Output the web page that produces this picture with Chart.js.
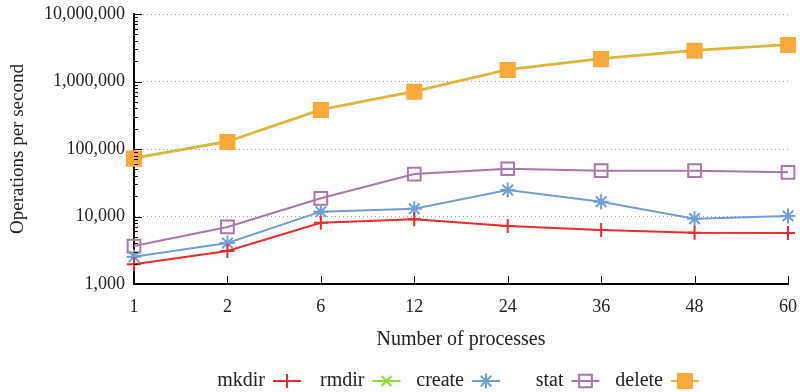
<!DOCTYPE html>
<html>
<head>
<meta charset="utf-8">
<script src="https://cdn.jsdelivr.net/npm/chart.js@4/dist/chart.umd.min.js"></script>
<style>
  html, body { margin: 0; padding: 0; background: #fff; }
  #wrap { width: 800px; height: 392px; position: relative; }
</style>
</head>
<body>
<div id="wrap"><canvas id="c"></canvas></div>
<script>
// Metadata throughput per operation, by number of client processes
const processes = ['1', '2', '6', '12', '24', '36', '48', '60'];
const mkdirOps  = [1960, 3080, 8100, 9100, 7250, 6300, 5750, 5700];
const rmdirOps  = [74000, 131000, 390000, 725000, 1520000, 2210000, 2930000, 3570000];
const createOps = [2540, 4050, 11800, 13000, 24700, 16600, 9300, 10200];
const statOps   = [3650, 7000, 18600, 42600, 51000, 47700, 47700, 45100];
const deleteOps = [72000, 127000, 378000, 705000, 1480000, 2150000, 2850000, 3470000];
const yTicks    = [1000, 10000, 100000, 1000000, 10000000];

const FONT = "'Liberation Serif', 'DejaVu Serif', serif";
const TEXT = '#222';

// tick marks drawn on the inside of the axes, plus log minor ticks
const innerTicks = {
  id: 'innerTicks',
  afterDatasetsDraw(chart) {
    const { ctx, chartArea: a, scales: { x, y } } = chart;
    ctx.save();
    ctx.strokeStyle = '#000';
    ctx.lineWidth = 1;
    ctx.beginPath();
    processes.forEach((_, i) => {
      const px = Math.round(x.getPixelForValue(i)) + 0.5;
      ctx.moveTo(px, a.bottom);
      ctx.lineTo(px, a.bottom - 8);
    });
    for (let d = 0; d < yTicks.length; d++) {
      const base = yTicks[d];
      const py = Math.round(y.getPixelForValue(base)) + 0.5;
      ctx.moveTo(a.left, py);
      ctx.lineTo(a.left + 8, py);
      if (d < yTicks.length - 1) {
        for (let m = 2; m <= 9; m++) {
          const my = Math.round(y.getPixelForValue(base * m)) + 0.5;
          ctx.moveTo(a.left, my);
          ctx.lineTo(a.left + 4, my);
        }
      }
    }
    ctx.stroke();
    ctx.restore();
  }
};

// legend row: label text, then a short line sample with its marker
const sampleLegend = {
  id: 'sampleLegend',
  afterDraw(chart) {
    const { ctx, chartArea: a } = chart;
    const sets = chart.data.datasets;
    const step = 99.5;
    const mid = (a.left + a.right) / 2 + 25;
    const yRow = 381;
    ctx.save();
    ctx.font = '20px ' + FONT;
    ctx.textAlign = 'right';
    ctx.textBaseline = 'middle';
    sets.forEach((ds, i) => {
      const cx = mid + (i - (sets.length - 1) / 2) * step;
      const x0 = cx - 14, x1 = cx + 14;
      ctx.fillStyle = TEXT;
      ctx.fillText(ds.label, x0 - 8, yRow);
      ctx.strokeStyle = ds.borderColor;
      ctx.lineWidth = 2;
      ctx.beginPath();
      ctx.moveTo(x0, yRow);
      ctx.lineTo(x1, yRow);
      ctx.stroke();
      ctx.fillStyle = ds.pointBackgroundColor;
      ctx.strokeStyle = ds.pointBorderColor;
      ctx.lineWidth = ds.pointBorderWidth;
      Chart.helpers.drawPoint(ctx, {
        pointStyle: ds.pointStyle, radius: ds.pointRadius,
        rotation: 0, borderWidth: ds.pointBorderWidth
      }, cx, yRow);
    });
    ctx.restore();
  }
};

function series(label, data, color, style, radius, fill, order) {
  return {
    label, data, order,
    borderColor: color, borderWidth: 2, tension: 0,
    pointStyle: style, pointRadius: radius, pointHoverRadius: radius,
    pointBorderColor: color, pointBackgroundColor: fill, pointBorderWidth: 2
  };
}

new Chart(document.getElementById('c'), {
  type: 'line',
  data: {
    labels: processes,
    datasets: [
      series('mkdir',  mkdirOps,  '#ee2a2a', 'cross',    7,   '#ee2a2a', 0),
      series('rmdir',  rmdirOps,  '#88dd33', 'crossRot', 7,   '#88dd33', 0),
      series('create', createOps, '#6f9fd6', 'star',     7.5, '#6f9fd6', 0),
      series('stat',   statOps,   '#aa77aa', 'rect',     9,   'rgba(0,0,0,0)', 0),
      series('delete', deleteOps, '#f9aa3a', 'rect',     10,  '#f9aa3a', -1)
    ]
  },
  options: {
    responsive: true,
    maintainAspectRatio: false,
    animation: false,
    layout: { padding: { top: 14, right: 10, bottom: 40, left: 0 } },
    plugins: { legend: { display: false }, tooltip: { enabled: false } },
    scales: {
      x: {
        type: 'category',
        offset: false,
        grid: { display: false, drawTicks: false },
        border: { display: true, color: '#000', width: 2 },
        ticks: { color: TEXT, font: { family: FONT, size: 18 }, padding: 12, maxRotation: 0 },
        title: { display: true, text: 'Number of processes', color: TEXT,
                 font: { family: FONT, size: 20 }, padding: { top: 10, bottom: 0 } },
        afterFit(s) { s.height = 68; s.paddingLeft = 0; s.paddingRight = 0; }
      },
      y: {
        type: 'logarithmic',
        min: 1000,
        max: 10000000,
        afterBuildTicks(s) { s.ticks = yTicks.map(v => ({ value: v })); },
        grid: { color: '#9a9a9a', lineWidth: 1, drawTicks: false },
        border: { display: true, color: '#000', width: 2, dash: [1, 3] },
        ticks: {
          color: TEXT, font: { family: FONT, size: 18 }, padding: 9,
          callback: v => Number(v).toLocaleString('en-US')
        },
        title: { display: true, text: 'Operations per second', color: TEXT,
                 font: { family: FONT, size: 19 }, padding: { top: 7, bottom: 2 } },
        afterFit(s) { s.width = 134; s.paddingTop = 0; s.paddingBottom = 0; }
      }
    }
  },
  plugins: [innerTicks, sampleLegend]
});
</script>
</body>
</html>
